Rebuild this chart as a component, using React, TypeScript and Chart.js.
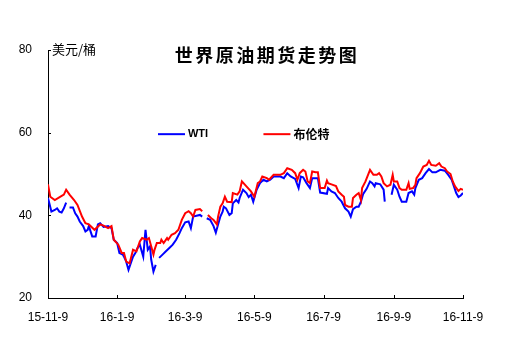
import React, { useEffect, useRef } from "react";
import { Chart, registerables } from "chart.js";

Chart.register(...registerables);

const chartTitle = "世界原油期货走势图";
const unitLabel = "美元/桶";
const seriesNames = ["WTI", "布伦特"];
const seriesColors = ["#0000FF", "#FF0000"];

// x tick positions (days since 2015-11-09) and their labels
const tickDays = [0, 61, 121, 182, 243, 305, 366];
const tickLabels = ["15-11-9", "16-1-9", "16-3-9", "16-5-9", "16-7-9", "16-9-9", "16-11-9"];
const yTicks = [20, 40, 60, 80];

// WTI (days since 2015-11-09, USD/bbl); null = gap
const wtiDays = [
  0, 3, 6, 8, 10, 12, 14, 16, 17, 19,
  22, 24, 26, 28, 31, 33, 35, 36, 39, 42,
  44, 46, 49, 53, 56, 58, 61, 63, 66, 67,
  69, 71, 73, 75, 77, 79, 81, 84, 85, 86,
  88, 90, 91, 93, 95, 96, 98, 101, 104, 107,
  110, 113, 116, 118, 121, 124, 126, 128, 134, 136,
  138, 140, 143, 146, 148, 150, 152, 154, 155, 157,
  160, 162, 163, 166, 168, 169, 172, 175, 177, 179,
  181, 184, 187, 190, 193, 196, 199, 205, 208, 211,
  214, 218, 221, 223, 225, 228, 231, 233, 238, 240,
  246, 247, 250, 253, 256, 259, 262, 265, 267, 269,
  272, 274, 276, 278, 281, 284, 286, 288, 289, 293,
  296, 297, 300, 303, 305, 308, 310, 312, 316, 318,
  321, 323, 324, 327, 330, 333, 336, 339, 342, 346,
  350, 353, 356, 358, 360, 362, 364, 366,
];
const wtiVals = [
  44.2, 40.9, 41.3, 41.7, 40.9, 40.7, 41.7, 43.1, null, 41.9,
  41.9, 40.5, 39.7, 38.5, 37.4, 36.1, 36.5, 37.4, 34.9, 34.9,
  37.8, 38.1, 37.2, 37.4, 36.9, 34.1, 33.3, 30.9, 30.5, 30.0,
  28.8, 26.8, 28.4, 30.0, 30.9, 32.1, 32.9, 30.0, 33.3, 36.5,
  31.7, 32.5, 29.3, 26.4, 28.0, null, 29.7, 30.5, 31.3, 32.1,
  32.9, 34.1, 35.7, 36.9, 38.3, 38.5, 36.9, 39.7, 40.1, 39.7,
  null, 39.3, 38.9, 37.4, 35.8, 37.8, 39.7, 40.9, 42.1, 41.7,
  40.1, 40.5, 42.9, 43.7, 43.1, 44.2, 46.2, 45.4, 44.4, 45.0,
  43.3, 46.2, 47.8, 48.6, 48.2, 48.6, 49.4, 49.4, 49.0, 50.2,
  49.4, 48.8, 46.6, 49.4, 49.2, 47.8, 46.6, 49.0, 49.0, 45.5,
  45.2, 46.6, 45.8, 45.4, 44.2, 43.3, 41.7, 40.9, 39.7, 41.5,
  42.1, 42.1, 43.3, 45.2, 46.4, 48.2, 47.8, 47.0, 47.8, 47.5,
  46.2, 43.3, null, 45.0, 47.4, 46.2, 44.5, 43.3, 43.3, 45.4,
  45.8, 45.0, 46.6, 48.6, 49.0, 50.2, 51.2, 50.4, 50.4, 51.0,
  50.8, 49.8, 48.6, 47.0, 45.4, 44.4, 44.8, 45.4,
];

// Brent (days since 2015-11-09, USD/bbl); null = gap
const brentDays = [
  0, 2, 6, 11, 14, 16, 19, 23, 26, 30,
  33, 36, 41, 46, 49, 53, 56, 58, 62, 65,
  67, 69, 72, 75, 78, 81, 83, 87, 89, 91,
  93, 94, 96, 99, 100, 102, 105, 106, 109, 112,
  115, 118, 121, 124, 126, 128, 130, 134, 136, 138,
  141, 144, 146, 149, 150, 152, 154, 156, 158, 162,
  163, 167, 169, 171, 175, 179, 182, 185, 187, 189,
  193, 195, 199, 205, 208, 211, 215, 218, 220, 222,
  225, 227, 229, 231, 233, 236, 238, 240, 244, 246,
  247, 250, 254, 256, 259, 261, 262, 265, 268, 269,
  272, 274, 276, 277, 280, 284, 287, 290, 292, 294,
  296, 299, 302, 304, 305, 308, 310, 312, 316, 318,
  319, 322, 324, 325, 328, 331, 334, 336, 338, 342,
  345, 347, 350, 352, 355, 357, 359, 362, 364, 366,
];
const brentVals = [
  47.5, 44.5, 43.7, 44.5, 45.0, 46.2, 45.0, 43.7, 42.5, 39.7,
  38.1, 37.8, 36.5, 37.8, 37.5, 36.9, 37.4, 34.1, 32.9, 30.9,
  30.9, 28.8, 28.4, 31.7, 31.3, 33.7, 34.5, 34.1, 34.5, 32.5,
  30.5, 31.7, 33.3, 33.3, 34.1, 33.3, 34.5, 34.1, 35.3, 35.7,
  36.5, 38.9, 40.5, 41.0, 40.5, 39.7, 41.3, 41.5, 41.0, null,
  40.1, 39.3, 38.9, 37.8, 39.7, 42.1, 42.9, 44.5, 43.3, 43.2,
  45.4, 45.0, 45.8, 48.2, 47.0, 45.8, 44.5, 47.8, 48.2, 49.4,
  49.0, 48.6, 49.8, 49.8, 50.2, 51.4, 51.0, 50.2, 48.6, 50.2,
  51.0, 50.6, 48.2, 47.8, 50.6, 50.4, 50.4, 46.6, 46.6, 48.4,
  47.8, 47.5, 47.1, 45.8, 45.0, 44.5, 42.5, 42.1, 42.1, 44.2,
  45.0, 45.4, 43.7, 46.6, 48.2, 51.0, 49.8, 49.8, 50.2, 49.4,
  47.8, 47.0, 47.4, 49.8, 48.2, 48.2, 46.6, 46.2, 46.2, 47.8,
  46.4, 46.6, 47.4, 49.0, 50.2, 51.8, 52.2, 53.2, 52.2, 52.0,
  52.6, 51.8, 51.4, 50.6, 50.0, 48.2, 47.0, 45.9, 46.4, 46.2,
];

const toPoints = (days: number[], vals: (number | null)[]) =>
  days.map((d, i) => ({ x: d, y: vals[i] }));

const decorPlugin = {
  id: "decor",
  afterDraw(chart: any) {
    const { ctx, chartArea, scales } = chart;
    const xs = scales.x;
    const ys = scales.y;
    ctx.save();
    ctx.strokeStyle = "#000";
    ctx.lineWidth = 1;
    ctx.beginPath();
    tickDays.forEach((d) => {
      const px = Math.round(xs.getPixelForValue(d)) + 0.5;
      ctx.moveTo(px, chartArea.bottom);
      ctx.lineTo(px, chartArea.bottom - 3);
    });
    yTicks.forEach((v) => {
      const py = Math.round(ys.getPixelForValue(v)) + 0.5;
      ctx.moveTo(chartArea.left, py);
      ctx.lineTo(chartArea.left + 3, py);
    });
    ctx.stroke();

    // unit label
    ctx.fillStyle = "#000";
    ctx.font = '13px "Noto Sans CJK SC", sans-serif';
    ctx.textAlign = "left";
    ctx.textBaseline = "middle";
    ctx.fillText(unitLabel, chartArea.left + 4, ys.getPixelForValue(80) - 1);

    // title
    ctx.font = 'bold 18px "Noto Sans CJK SC", sans-serif';
    (ctx as any).letterSpacing = "2.5px";
    ctx.textAlign = "center";
    ctx.fillText(chartTitle, 267, 55);
    (ctx as any).letterSpacing = "0px";

    // legend
    const legendY = ys.getPixelForValue(60) + 1.5;
    const legendX = [xs.getPixelForValue(97), xs.getPixelForValue(190)];
    chart.data.datasets.forEach((ds: any, i: number) => {
      const lx = legendX[i];
      ctx.strokeStyle = ds.borderColor;
      ctx.lineWidth = 2;
      ctx.beginPath();
      ctx.moveTo(lx, legendY);
      ctx.lineTo(lx + 27, legendY);
      ctx.stroke();
      ctx.fillStyle = "#000";
      ctx.font = i === 0 ? 'bold 11px "Liberation Sans", sans-serif' : 'bold 12px "Noto Sans CJK SC", sans-serif';
      ctx.textAlign = "left";
      ctx.textBaseline = "middle";
      ctx.fillText(ds.label, lx + 30, legendY);
    });
    ctx.restore();
  },
};

export default function App() {
  const ref = useRef<HTMLCanvasElement | null>(null);
  useEffect(() => {
    if (!ref.current) return;
    const chart = new Chart(ref.current, {
      type: "line",
      data: {
        datasets: [
          {
            label: seriesNames[0],
            data: toPoints(wtiDays, wtiVals),
            borderColor: seriesColors[0],
            backgroundColor: seriesColors[0],
            borderWidth: 2,
            pointRadius: 0,
            tension: 0,
            spanGaps: false,
            order: 1,
          },
          {
            label: seriesNames[1],
            data: toPoints(brentDays, brentVals),
            borderColor: seriesColors[1],
            backgroundColor: seriesColors[1],
            borderWidth: 2,
            pointRadius: 0,
            tension: 0,
            spanGaps: false,
            order: 0,
          },
        ],
      },
      options: {
        animation: false,
        responsive: false,
        devicePixelRatio: 1,
        layout: { padding: { left: 0, right: 60, top: 50, bottom: 0 } },
        plugins: { legend: { display: false }, tooltip: { enabled: false }, title: { display: false } },
        scales: {
          x: {
            type: "linear",
            min: 0,
            max: 366,
            afterFit: (s: any) => { s.height = 58; },
            afterBuildTicks: (s: any) => { s.ticks = tickDays.map((v) => ({ value: v })); },
            grid: { display: false, drawTicks: false },
            border: { display: true, color: "#000", width: 1 },
            ticks: {
              autoSkip: false,
              maxRotation: 0,
              padding: 12,
              color: "#000",
              font: { family: '"Liberation Sans", Arial, sans-serif', size: 12 },
              callback: (v: any) => {
                const i = tickDays.indexOf(Number(v));
                return i >= 0 ? tickLabels[i] : "";
              },
            },
          },
          y: {
            min: 20,
            max: 80,
            afterFit: (s: any) => { s.width = 48; },
            afterBuildTicks: (s: any) => { s.ticks = yTicks.map((v) => ({ value: v })); },
            grid: { display: false, drawTicks: false },
            border: { display: true, color: "#000", width: 1 },
            ticks: {
              padding: 16,
              color: "#000",
              font: { family: '"Liberation Sans", Arial, sans-serif', size: 12 },
            },
          },
        },
      },
      plugins: [decorPlugin],
    } as any);
    return () => chart.destroy();
  }, []);
  return (
    <div style={{ position: "fixed", left: 0, top: 0, width: 523, height: 356, background: "#fff" }}>
      <canvas ref={ref} width={523} height={356} style={{ width: 523, height: 356 }} />
    </div>
  );
}
